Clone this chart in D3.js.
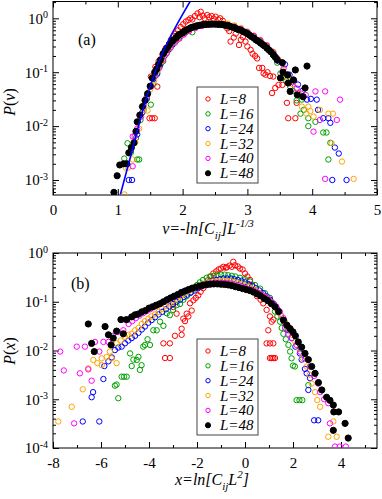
<!DOCTYPE html>
<html>
<head>
<meta charset="utf-8">
<script src="https://cdn.jsdelivr.net/npm/d3@7"></script>
<style>
body { margin: 0; background: #fff; }
svg { display: block; font-family: "Liberation Serif", "Times New Roman", serif; }
</style>
</head>
<body>
<svg id="chart" width="382" height="499"></svg>
<script>
// ---- data: [x, P] pairs ----
var sizes = ["L=8", "L=16", "L=24", "L=32", "L=40", "L=48"];

// panel (a): v = -ln[Cij] L^-1/3
var a8 = [[1.49,0.014],[1.53,0.014],[1.57,0.014],[1.51,0.083],[1.58,0.126],[1.61,0.054],[1.63,0.16],[1.69,0.21],[1.74,0.28],[1.79,0.33],[1.82,0.40],[1.86,0.47],[1.89,0.52],[1.93,0.60],[1.97,0.69],[2.01,0.78],[2.05,0.87],[2.09,0.93],[2.12,1.0],[2.15,0.95],[2.19,1.1],[2.23,1.23],[2.26,1.05],[2.28,1.32],[2.31,1.12],[2.34,1.0],[2.38,1.15],[2.41,1.05],[2.45,1.1],[2.48,0.98],[2.51,1.07],[2.55,0.95],[2.58,1.0],[2.62,0.9],[2.66,0.78],[2.69,0.65],[2.72,0.58],[2.74,0.37],[2.79,0.44],[2.82,0.52],[2.87,0.32],[2.90,0.40],[2.93,0.45],[2.97,0.37],[3.00,0.30],[3.05,0.26],[3.08,0.22],[3.12,0.20],[3.15,0.18],[3.18,0.12],[3.23,0.12],[3.25,0.095],[3.28,0.09],[3.31,0.10],[3.35,0.085],[3.40,0.083],[3.38,0.041],[3.43,0.051],[3.48,0.058],[3.54,0.058],[3.61,0.027],[3.76,0.027],[3.63,0.014],[3.74,0.014]];
var a16 = [[1.10,2.5e-3],[1.15,4.8e-3],[1.30,2.4e-3],[1.33,2.4e-3],[1.20,3.2e-3],[1.28,6e-3],[1.35,1.3e-2],[1.40,2e-2],[1.45,3.2e-2],[1.51,0.025],[1.55,0.06],[1.60,0.09],[1.65,0.13],[1.70,0.16],[1.75,0.22],[1.80,0.27],[1.85,0.33],[1.90,0.38],[1.94,0.42],[2.0,0.50],[2.05,0.55],[2.10,0.60],[2.15,0.55],[2.20,0.68],[2.30,0.74],[2.40,0.78],[2.50,0.80],[2.60,0.80],[2.70,0.76],[2.80,0.70],[2.90,0.63],[3.0,0.55],[3.1,0.46],[3.2,0.38],[3.3,0.30],[3.4,0.22],[3.46,0.15],[3.51,0.095],[3.55,0.08],[3.60,0.07],[3.66,0.054],[3.70,0.045],[3.76,0.03],[3.82,0.017],[3.84,0.031],[3.87,0.02],[3.94,0.014],[3.94,0.01],[4.05,0.012],[4.17,7.6e-3],[4.22,7.6e-3],[4.28,4.9e-3],[4.25,2.4e-3]];
var a24 = [[1.17,1.0e-3],[1.22,1.0e-3],[1.20,3.5e-3],[1.30,7e-3],[1.38,1.8e-2],[1.45,3.5e-2],[1.50,5.5e-2],[1.55,7.5e-2],[1.61,0.095],[1.66,0.14],[1.72,0.2],[1.78,0.26],[1.84,0.32],[1.90,0.40],[1.96,0.46],[2.02,0.53],[2.10,0.62],[2.20,0.70],[2.30,0.75],[2.40,0.78],[2.50,0.79],[2.60,0.78],[2.70,0.74],[2.80,0.68],[2.90,0.60],[3.00,0.52],[3.10,0.43],[3.20,0.36],[3.30,0.28],[3.40,0.21],[3.48,0.16],[3.58,0.14],[3.65,0.09],[3.72,0.07],[3.78,0.059],[3.85,0.045],[3.92,0.031],[3.98,0.032],[4.07,0.031],[4.09,0.02],[4.17,0.014],[4.25,0.014],[4.28,0.0115],[4.35,4e-3],[4.41,3.1e-3],[4.31,1e-3],[4.53,1.0e-3]];
var a32 = [[1.10,5.4e-4],[1.12,1.7e-3],[1.16,1.7e-3],[1.23,2.4e-3],[1.27,5e-3],[1.33,9e-3],[1.40,2e-2],[1.46,1.95e-2],[1.50,4.8e-2],[1.56,7e-2],[1.62,0.11],[1.68,0.16],[1.74,0.22],[1.80,0.28],[1.86,0.35],[1.92,0.41],[2.0,0.49],[2.1,0.60],[2.2,0.68],[2.3,0.75],[2.4,0.79],[2.5,0.82],[2.6,0.82],[2.7,0.80],[2.8,0.74],[2.9,0.66],[3.0,0.57],[3.1,0.48],[3.2,0.40],[3.3,0.32],[3.4,0.24],[3.48,0.17],[3.55,0.11],[3.62,0.08],[3.7,0.06],[3.78,0.042],[3.84,0.023],[3.91,0.017],[3.94,0.023],[3.97,0.019],[4.02,0.015],[4.12,0.02],[4.25,0.017],[4.32,0.017],[4.30,4.8e-3],[4.46,2.2e-3],[4.64,1.05e-3]];
var a40 = [[1.23,1.8e-3],[1.23,6.4e-3],[1.26,6.4e-3],[1.30,9e-3],[1.36,1.5e-2],[1.40,2.4e-2],[1.45,3.5e-2],[1.52,5.5e-2],[1.58,8.5e-2],[1.64,0.12],[1.70,0.17],[1.76,0.23],[1.82,0.29],[1.88,0.35],[1.95,0.42],[2.02,0.50],[2.1,0.58],[2.2,0.66],[2.3,0.72],[2.4,0.76],[2.5,0.78],[2.6,0.78],[2.7,0.75],[2.8,0.70],[2.9,0.63],[3.0,0.55],[3.1,0.47],[3.2,0.39],[3.3,0.31],[3.4,0.23],[3.46,0.18],[3.56,0.118],[3.62,0.09],[3.70,0.065],[3.76,0.05],[3.83,0.04],[3.90,0.038],[4.05,0.044],[4.20,0.044],[4.43,0.031],[4.12,0.013],[4.38,0.013],[4.02,7.9e-3],[4.20,1.05e-3]];
var a48 = [[0.94,5.9e-4],[0.99,1.2e-3],[1.03,1.9e-3],[1.09,2.0e-3],[1.14,2.0e-3],[1.17,3.2e-3],[1.21,4.0e-3],[1.25,4.9e-3],[1.28,8.0e-3],[1.30,1.2e-2],[1.34,1.6e-2],[1.38,2.3e-2],[1.42,3.0e-2],[1.46,4.0e-2],[1.50,5.5e-2],[1.53,7.8e-2],[1.57,0.10],[1.60,0.115],[1.63,0.14],[1.66,0.17],[1.70,0.22],[1.73,0.25],[1.76,0.28],[1.80,0.33],[1.83,0.37],[1.86,0.40],[1.90,0.44],[1.93,0.48],[1.96,0.51],[2.00,0.54],[2.03,0.58],[2.06,0.61],[2.10,0.64],[2.13,0.67],[2.16,0.69],[2.20,0.71],[2.23,0.73],[2.26,0.74],[2.30,0.76],[2.33,0.77],[2.36,0.77],[2.40,0.78],[2.43,0.78],[2.46,0.78],[2.50,0.78],[2.53,0.78],[2.56,0.77],[2.60,0.77],[2.63,0.76],[2.66,0.74],[2.70,0.73],[2.73,0.71],[2.76,0.69],[2.80,0.67],[2.83,0.64],[2.86,0.62],[2.90,0.60],[2.93,0.57],[2.96,0.55],[3.00,0.52],[3.03,0.49],[3.06,0.46],[3.10,0.43],[3.13,0.40],[3.16,0.38],[3.20,0.35],[3.23,0.33],[3.26,0.31],[3.30,0.28],[3.33,0.26],[3.36,0.24],[3.40,0.21],[3.43,0.19],[3.46,0.17],[3.51,0.078],[3.54,0.15],[3.55,0.10],[3.62,0.089],[3.63,0.063],[3.66,0.044],[3.71,0.072],[3.74,0.11],[3.77,0.038],[3.86,0.035],[3.89,0.051],[3.92,0.13]];
// blue fit of the left tail in (a)
var fitLine = [[1.04,5.4e-4],[1.22,3.5e-3],[1.40,0.0224],[1.70,0.24],[2.13,2.19]];

// panel (b): x = ln[Cij L^2]
var b8 = [[-3.40,0.014],[-3.13,0.014],[-3.33,7e-3],[-3.13,7e-3],[-2.99,0.078],[-2.85,0.057],[-2.92,0.02],[-2.64,0.028],[-2.64,0.021],[-2.57,0.045],[-2.50,0.040],[-2.43,0.057],[-2.36,0.05],[-2.29,0.093],[-2.22,0.066],[-2.15,0.107],[-2.05,0.12],[-1.95,0.135],[-1.85,0.16],[-1.74,0.19],[-1.64,0.24],[-1.53,0.28],[-1.42,0.33],[-1.32,0.38],[-1.2,0.42],[-1.1,0.46],[-1.0,0.48],[-0.9,0.52],[-0.8,0.50],[-0.76,0.51],[-0.65,0.55],[-0.55,0.52],[-0.49,0.66],[-0.42,0.56],[-0.3,0.53],[-0.21,0.48],[-0.1,0.46],[0.0,0.38],[0.1,0.33],[0.21,0.28],[0.3,0.22],[0.4,0.16],[0.5,0.13],[0.65,0.11],[0.76,0.093],[0.9,0.068],[1.04,0.05],[1.11,0.039],[1.18,0.043],[0.97,0.026],[0.90,0.014],[1.04,0.014],[1.18,0.014],[1.04,7e-3],[1.11,7e-3],[1.18,7e-3],[1.25,7e-3]];
var b16 = [[-5.28,1.05e-3],[-5.42,1.9e-3],[-5.35,2.0e-3],[-5.14,2.9e-3],[-5.04,2.9e-3],[-4.93,2.9e-3],[-4.79,8.7e-3],[-4.72,4.8e-3],[-4.65,6.5e-3],[-4.51,6.4e-3],[-4.44,7.4e-3],[-4.38,4e-3],[-4.31,5e-3],[-4.24,0.012],[-4.17,0.013],[-4.06,0.017],[-3.96,0.013],[-3.82,0.026],[-3.68,0.026],[-3.54,0.039],[-3.40,0.032],[-3.26,0.058],[-3.13,0.053],[-3.0,0.068],[-2.85,0.085],[-2.71,0.09],[-2.57,0.11],[-2.43,0.13],[-2.29,0.15],[-2.15,0.18],[-2.0,0.22],[-1.88,0.25],[-1.75,0.28],[-1.60,0.31],[-1.46,0.33],[-1.3,0.34],[-1.15,0.35],[-1.0,0.36],[-0.85,0.36],[-0.7,0.35],[-0.55,0.34],[-0.4,0.33],[-0.21,0.31],[0.0,0.29],[0.21,0.26],[0.42,0.22],[0.63,0.186],[0.83,0.15],[1.04,0.12],[1.15,0.09],[1.25,0.063],[1.35,0.05],[1.46,0.039],[1.53,0.029],[1.60,0.022],[1.70,0.017],[1.81,0.013],[1.88,9.5e-3],[1.94,6.9e-3],[2.0,4.9e-3],[2.08,4.7e-3],[2.64,1.95e-3],[2.15,9.6e-4],[2.27,9.6e-4],[2.39,9.6e-4]];
var b24 = [[-6.76,3.5e-4],[-6.07,3.5e-4],[-6.39,1.1e-3],[-6.33,1.4e-3],[-5.90,2.6e-3],[-5.86,4.8e-3],[-5.69,6e-3],[-5.55,7.2e-3],[-5.42,0.0102],[-5.28,0.0115],[-5.14,0.012],[-5.0,0.014],[-4.86,0.016],[-4.72,0.018],[-4.58,0.02],[-4.44,0.023],[-4.30,0.027],[-4.17,0.031],[-4.03,0.037],[-3.89,0.042],[-3.75,0.048],[-3.60,0.055],[-3.45,0.062],[-3.30,0.07],[-3.15,0.08],[-3.0,0.09],[-2.85,0.10],[-2.70,0.11],[-2.55,0.125],[-2.40,0.14],[-2.25,0.155],[-2.10,0.17],[-1.95,0.19],[-1.80,0.21],[-1.65,0.23],[-1.50,0.25],[-1.35,0.27],[-1.20,0.28],[-1.05,0.29],[-0.9,0.30],[-0.75,0.30],[-0.6,0.30],[-0.45,0.29],[-0.3,0.28],[-0.15,0.27],[0.0,0.25],[0.15,0.23],[0.3,0.21],[0.45,0.19],[0.6,0.17],[0.75,0.15],[0.9,0.13],[1.05,0.11],[1.2,0.09],[1.35,0.07],[1.5,0.052],[1.65,0.038],[1.8,0.026],[1.95,0.018],[2.1,0.012],[2.29,8.7e-3],[2.36,6.5e-3],[2.50,4.2e-3],[2.57,3.4e-3],[2.71,2.7e-3],[2.64,1.55e-3],[2.88,3.7e-4],[3.05,3.7e-4]];
var b32 = [[-7.78,3.5e-4],[-7.22,7e-4],[-6.76,1.6e-3],[-6.53,4.3e-3],[-6.32,6.4e-3],[-6.15,5.5e-3],[-5.97,5e-3],[-5.97,6.9e-3],[-5.76,7.4e-3],[-5.63,9.5e-3],[-5.56,6.9e-3],[-5.35,5.5e-3],[-5.35,0.014],[-5.18,0.016],[-5.0,0.019],[-4.86,0.021],[-4.72,0.022],[-4.58,0.026],[-4.44,0.029],[-4.30,0.035],[-4.17,0.04],[-4.03,0.045],[-3.90,0.05],[-3.75,0.055],[-3.60,0.062],[-3.45,0.072],[-3.30,0.082],[-3.15,0.093],[-3.0,0.105],[-2.85,0.117],[-2.7,0.13],[-2.55,0.145],[-2.4,0.16],[-2.25,0.175],[-2.1,0.19],[-1.95,0.205],[-1.8,0.22],[-1.65,0.235],[-1.5,0.25],[-1.35,0.26],[-1.2,0.265],[-1.05,0.27],[-0.9,0.27],[-0.75,0.27],[-0.6,0.265],[-0.45,0.255],[-0.3,0.245],[-0.15,0.23],[0.0,0.215],[0.15,0.20],[0.3,0.185],[0.45,0.17],[0.6,0.15],[0.75,0.135],[0.9,0.12],[1.05,0.10],[1.2,0.085],[1.35,0.068],[1.5,0.052],[1.65,0.04],[1.8,0.029],[1.95,0.021],[2.1,0.015],[2.25,0.011],[2.4,7e-3],[2.57,4.7e-3],[2.70,3.2e-3],[2.78,2.1e-3],[2.92,1.4e-3],[3.01,9.6e-4],[3.13,7e-4],[3.68,3.5e-4],[3.47,1.7e-4],[3.82,1.7e-4]];
var b40 = [[-7.70,9.5e-3],[-7.55,3.9e-3],[-7.12,3.2e-4],[-7.01,0.012],[-6.88,3.4e-3],[-6.67,0.012],[-6.53,4.1e-3],[-6.39,2.4e-3],[-6.25,0.015],[-6.07,9.5e-3],[-5.90,0.015],[-5.69,0.015],[-5.50,0.02],[-5.30,0.024],[-5.07,0.026],[-5.0,0.043],[-4.85,0.035],[-4.70,0.04],[-4.55,0.046],[-4.40,0.052],[-4.25,0.058],[-4.10,0.064],[-3.95,0.07],[-3.80,0.077],[-3.65,0.085],[-3.5,0.093],[-3.35,0.10],[-3.2,0.11],[-3.05,0.12],[-2.9,0.13],[-2.75,0.14],[-2.6,0.155],[-2.45,0.17],[-2.3,0.18],[-2.15,0.19],[-2.0,0.20],[-1.85,0.21],[-1.7,0.22],[-1.55,0.23],[-1.4,0.24],[-1.25,0.245],[-1.1,0.245],[-0.95,0.245],[-0.8,0.24],[-0.65,0.235],[-0.5,0.225],[-0.35,0.215],[-0.2,0.205],[-0.05,0.195],[0.1,0.185],[0.25,0.175],[0.4,0.165],[0.55,0.152],[0.7,0.14],[0.85,0.125],[1.0,0.11],[1.15,0.095],[1.3,0.08],[1.45,0.063],[1.60,0.046],[1.67,0.029],[1.80,0.022],[1.94,0.018],[2.15,0.013],[2.30,9.5e-3],[2.50,6.9e-3],[2.71,4.7e-3],[2.88,3.0e-3],[3.05,2.1e-3],[3.13,1.4e-3],[3.30,1.0e-3],[3.47,8.3e-4],[3.54,3.2e-4],[3.75,1.07e-4],[3.95,1.07e-4],[4.20,1.07e-4]];
var b48 = [[-6.53,0.035],[-6.39,0.014],[-6.28,9.5e-3],[-5.83,0.031],[-5.69,0.021],[-5.58,0.013],[-5.49,0.018],[-5.35,0.025],[-5.17,0.043],[-5.07,0.022],[-4.93,0.043],[-4.72,0.049],[-4.58,0.054],[-4.45,0.056],[-4.30,0.062],[-4.15,0.066],[-4.00,0.074],[-3.85,0.079],[-3.70,0.085],[-3.55,0.091],[-3.40,0.10],[-3.25,0.11],[-3.10,0.12],[-2.95,0.13],[-2.80,0.141],[-2.65,0.155],[-2.50,0.166],[-2.35,0.178],[-2.20,0.19],[-2.05,0.20],[-1.90,0.21],[-1.75,0.219],[-1.60,0.224],[-1.45,0.229],[-1.30,0.232],[-1.15,0.232],[-1.00,0.229],[-0.85,0.226],[-0.70,0.221],[-0.55,0.214],[-0.40,0.204],[-0.25,0.195],[-0.10,0.186],[0.05,0.178],[0.20,0.17],[0.35,0.158],[0.50,0.145],[0.65,0.132],[0.80,0.117],[0.95,0.105],[1.10,0.091],[1.25,0.079],[1.40,0.063],[1.60,0.042],[1.75,0.033],[1.88,0.028],[2.00,0.024],[2.10,0.020],[2.22,0.015],[2.36,0.0117],[2.50,8.7e-3],[2.64,6.5e-3],[2.78,4.7e-3],[2.92,3.4e-3],[3.06,2.2e-3],[3.20,1.55e-3],[3.40,1.1e-3],[3.54,9.5e-4],[3.68,7.6e-4],[3.70,5.5e-4],[3.90,5.5e-4],[3.68,2.3e-4],[4.17,3.2e-4],[4.30,1.6e-4]];

// axis ticks
var xTicksA = [0, 1, 2, 3, 4, 5], xMinorA = [0.5, 1.5, 2.5, 3.5, 4.5];
var yTicksA = [1e-3, 1e-2, 1e-1, 1], yExpA = ["-3", "-2", "-1", "0"];
var xTicksB = [-8, -6, -4, -2, 0, 2, 4], xMinorB = [-7, -5, -3, -1, 1, 3, 5];
var yTicksB = [1e-4, 1e-3, 1e-2, 1e-1, 1], yExpB = ["-4", "-3", "-2", "-1", "0"];

var colors = ["#ff0000", "#00a000", "#0000ff", "#ffa500", "#ff00ff", "#000000"];
var svg = d3.select("#chart");
var left = 53, right = 377;

function drawPanel(o) {
    var x = d3.scaleLinear().domain(o.xDomain).range([left, right]);
    var y = d3.scaleLog().domain(o.yDomain).range([o.bottom, o.top]);
    var g = svg.append("g");

    svg.append("clipPath").attr("id", "clip" + o.id)
        .append("rect")
        .attr("x", left).attr("y", o.top)
        .attr("width", right - left).attr("height", o.bottom - o.top);

    // minor log ticks
    var yMinor = [];
    for (var e = -5; e <= 0; e++) {
        for (var m = 2; m <= 9; m++) {
            var v = m * Math.pow(10, e);
            if (v > o.yDomain[0] && v < o.yDomain[1]) yMinor.push(v);
        }
    }

    function plain(axis, tr, vals, size) {
        g.append("g").attr("transform", tr)
            .call(axis.tickValues(vals).tickSizeInner(size).tickSizeOuter(0).tickFormat(""))
            .call(function(s) { s.select(".domain").remove(); });
    }

    // bottom axis with labels
    g.append("g").attr("transform", "translate(0," + o.bottom + ")")
        .call(d3.axisBottom(x).tickValues(o.xTicks).tickSizeInner(-6).tickSizeOuter(0)
            .tickPadding(9).tickFormat(function(d) { return String(d); }))
        .call(function(s) {
            s.select(".domain").remove();
            s.selectAll("text").attr("font-size", 15).attr("font-family", "Liberation Serif").attr("fill", "#000");
        });
    plain(d3.axisBottom(x), "translate(0," + o.bottom + ")", o.xMinor, -3);
    plain(d3.axisTop(x), "translate(0," + o.top + ")", o.xTicks, -6);
    plain(d3.axisTop(x), "translate(0," + o.top + ")", o.xMinor, -3);

    // left axis with 10^n labels
    g.append("g").attr("transform", "translate(" + left + ",0)")
        .call(d3.axisLeft(y).tickValues(o.yTicks).tickSizeInner(-6).tickSizeOuter(0)
            .tickPadding(5).tickFormat(""))
        .call(function(s) {
            s.select(".domain").remove();
            s.selectAll("text").each(function(d, i) {
                var t = d3.select(this).attr("font-size", 15).attr("font-family", "Liberation Serif").attr("fill", "#000");
                t.append("tspan").text("10");
                t.append("tspan").attr("font-size", 10).attr("dy", "-0.55em").text(o.yExp[i]);
            });
        });
    plain(d3.axisLeft(y), "translate(" + left + ",0)", yMinor, -3);
    plain(d3.axisRight(y), "translate(" + right + ",0)", o.yTicks, -6);
    plain(d3.axisRight(y), "translate(" + right + ",0)", yMinor, -3);

    g.selectAll(".tick line").attr("stroke", "#000");

    // frame
    g.append("rect")
        .attr("x", left).attr("y", o.top)
        .attr("width", right - left).attr("height", o.bottom - o.top)
        .attr("fill", "none").attr("stroke", "#000").attr("stroke-width", 1);

    // markers
    var plot = g.append("g").attr("clip-path", "url(#clip" + o.id + ")");
    o.data.forEach(function(pts, i) {
        plot.append("g").selectAll("circle")
            .data(pts).enter().append("circle")
            .attr("cx", function(d) { return x(d[0]); })
            .attr("cy", function(d) { return y(d[1]); })
            .attr("r", i === 5 ? 3.1 : 2.7)
            .attr("fill", i === 5 ? "#000" : "none")
            .attr("stroke", colors[i])
            .attr("stroke-width", 1);
    });

    if (o.fit) {
        plot.append("path")
            .datum(o.fit)
            .attr("d", d3.line().x(function(d) { return x(d[0]); }).y(function(d) { return y(d[1]); }).curve(d3.curveNatural))
            .attr("fill", "none").attr("stroke", "#0000ff").attr("stroke-width", 1.6);
    }

    // panel tag
    g.append("text").attr("x", o.tag[1]).attr("y", o.tag[2])
        .attr("font-size", 16).text(o.tag[0]);

    // legend
    var lg = g.append("g").attr("transform", "translate(197," + o.legendTop + ")");
    lg.append("rect").attr("width", 61).attr("height", 96)
        .attr("fill", "#fff").attr("stroke", "#444").attr("stroke-width", 1);
    sizes.forEach(function(s, i) {
        var yy = 12 + i * 14.85;
        lg.append("circle").attr("cx", 11).attr("cy", yy).attr("r", i === 5 ? 2.6 : 2.2)
            .attr("fill", i === 5 ? "#000" : "none").attr("stroke", colors[i]).attr("stroke-width", 1);
        lg.append("text").attr("x", 23).attr("y", yy + 5)
            .attr("font-size", 15).attr("font-style", "italic").text(s);
    });

    // y label
    var yl = g.append("text")
        .attr("transform", "translate(15," + o.yLabelY + ") rotate(-90)")
        .attr("text-anchor", "middle").attr("font-size", 16);
    yl.append("tspan").attr("font-style", "italic").text("P");
    yl.append("tspan").text("(");
    yl.append("tspan").attr("font-style", "italic").text(o.yVar);
    yl.append("tspan").text(")");

    // x label
    var xl = g.append("text").attr("x", o.xLabel[1]).attr("y", o.xLabel[2])
        .attr("text-anchor", "middle").attr("font-size", 16).attr("font-style", "italic");
    o.xLabel[0].forEach(function(p) {
        var t = xl.append("tspan").text(p[0]);
        if (p[1]) t.attr("dy", p[1]);
        if (p[2]) t.attr("font-size", p[2]);
    });
}

drawPanel({
    id: "a", top: 1.5, bottom: 195,
    xDomain: [0, 5], yDomain: [5.27e-4, 2.05],
    xTicks: xTicksA, xMinor: xMinorA, yTicks: yTicksA, yExp: yExpA,
    data: [a8, a16, a24, a32, a40, a48], fit: fitLine,
    tag: ["(a)", 78, 45], legendTop: 87, yLabelY: 102, yVar: "v",
    xLabel: [[["v=-ln[C"], ["ij", 5, 11], ["]L", -5], ["-1/3", -7, 11]], 208, 234]
});

drawPanel({
    id: "b", top: 253, bottom: 448,
    xDomain: [-8, 5.5], yDomain: [1e-4, 1],
    xTicks: xTicksB, xMinor: xMinorB, yTicks: yTicksB, yExp: yExpB,
    data: [b8, b16, b24, b32, b40, b48],
    tag: ["(b)", 71, 289], legendTop: 339, yLabelY: 351, yVar: "x",
    xLabel: [[["x=ln[C"], ["ij", 5, 11], ["L", -5], ["2", -7, 11], ["]", 7]], 212, 485]
});
</script>
</body>
</html>
